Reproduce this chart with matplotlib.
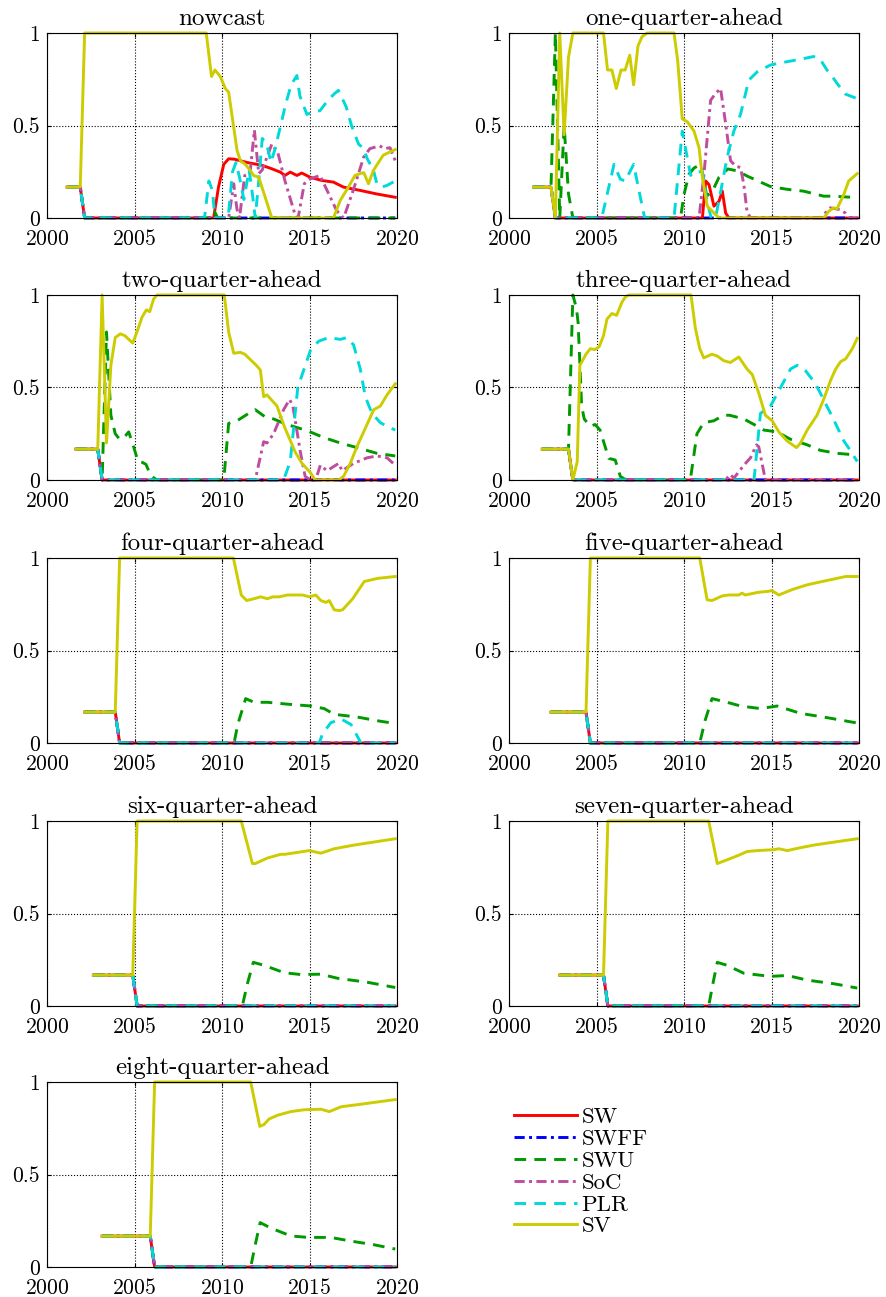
import matplotlib
matplotlib.use("Agg")
import matplotlib.pyplot as plt

plt.rcParams['font.family'] = ['cmr10', 'DejaVu Serif']
plt.rcParams['mathtext.fontset'] = 'cm'
plt.rcParams['axes.unicode_minus'] = False
plt.rcParams['axes.formatter.use_mathtext'] = True

# ---------------- data ----------------
SERIES = ['SW', 'SWFF', 'SWU', 'SoC', 'PLR', 'SV']
TITLES = ['nowcast', 'one-quarter-ahead', 'two-quarter-ahead', 'three-quarter-ahead',
          'four-quarter-ahead', 'five-quarter-ahead', 'six-quarter-ahead',
          'seven-quarter-ahead', 'eight-quarter-ahead']
XTICKS = [2000, 2005, 2010, 2015, 2020]
YTICKS = [0, 0.5, 1]
YTICK_LABELS = ['0', '0.5', '1']

nowcast = {
    'SW': [(2001.15, .167), (2001.9, .167), (2002.15, 0), (2009.52, 0), (2009.8, .167), (2010.1, .29),
           (2010.38, .32), (2010.7, .318), (2011.43, .30), (2012.28, .285), (2012.85, .266),
           (2013.33, .248), (2013.6, .23), (2013.9, .248), (2014.28, .23), (2014.56, .243),
           (2015.04, .22), (2015.7, .203), (2016.37, .194), (2016.94, .167), (2017.9, .149),
           (2018.84, .13), (2019.9, .112)],
    'SWFF': [(2001.15, .167), (2001.9, .167), (2002.15, 0), (2019.9, 0)],
    'SWU': [(2001.15, .167), (2001.9, .167), (2002.15, 0), (2009.3, 0), (2009.55, .04),
            (2009.75, 0), (2019.9, 0)],
    'SoC': [(2001.15, .167), (2001.9, .167), (2002.15, 0), (2010.38, 0), (2010.67, .185),
            (2010.85, .05), (2011.0, 0), (2011.3, .23), (2011.6, .24), (2011.85, .475),
            (2012.1, .24), (2012.3, .26), (2012.85, .40), (2013.2, .35), (2013.6, .20),
            (2014.2, .01), (2014.35, 0), (2014.7, .185), (2015.0, .21), (2015.6, .23),
            (2016.1, .13), (2016.55, .04), (2016.95, 0), (2017.5, .15), (2018.1, .33),
            (2018.45, .375), (2019.0, .39), (2019.3, .375), (2019.6, .38), (2019.9, .31)],
    'PLR': [(2001.15, .167), (2001.9, .167), (2002.15, 0), (2009.0, 0), (2009.25, .2),
            (2009.45, .15), (2009.6, 0), (2010.35, 0), (2010.6, .25), (2010.8, .30),
            (2011.0, .22), (2011.25, .1), (2011.55, .26), (2011.75, .12), (2011.9, 0),
            (2012.1, .2), (2012.3, .43), (2012.55, .40), (2012.8, .30), (2013.05, .38),
            (2013.35, .50), (2013.65, .62), (2013.95, .72), (2014.28, .77), (2014.45, .66),
            (2014.85, .56), (2015.23, .575), (2015.6, .58), (2016.0, .63), (2016.4, .67),
            (2016.65, .69), (2017.1, .60), (2017.4, .50), (2017.8, .40), (2018.1, .375),
            (2018.3, .32), (2018.65, .26), (2018.85, .185), (2019.1, .167), (2019.4, .175),
            (2019.9, .20)],
    'SV': [(2001.15, .167), (2001.9, .167), (2002.15, 1), (2009.1, 1), (2009.4, .765),
           (2009.6, .80), (2009.9, .765), (2010.19, .70), (2010.38, .68), (2010.86, .365),
           (2011.05, .31), (2011.33, .29), (2011.62, .257), (2011.8, .23), (2012.1, .22),
           (2012.85, 0), (2016.37, 0), (2016.75, .094), (2017.22, .167), (2017.6, .23),
           (2017.9, .24), (2018.1, .245), (2018.37, .185), (2018.65, .257), (2018.94, .30),
           (2019.22, .34), (2019.6, .357), (2019.9, .37)],
}

one_q = {
    'SW': [(2001.4, .167), (2002.4, .167), (2002.65, 0), (2011.05, 0), (2011.24, .2),
           (2011.43, .18), (2011.71, .064), (2012.0, .09), (2012.19, .145), (2012.38, .027),
           (2012.57, 0), (2019.9, 0)],
    'SWFF': [(2001.4, .167), (2002.4, .167), (2002.65, 0), (2019.9, 0)],
    'SWU': [(2001.4, .167), (2002.4, .167), (2002.65, 1), (2002.9, 0), (2003.15, .5),
            (2003.4, .13), (2003.65, 0), (2009.8, 0), (2010.0, .127), (2010.28, .236),
            (2010.57, .27), (2010.95, .29), (2011.1, .22), (2011.3, .12), (2011.6, .14),
            (2012.0, .22), (2012.5, .265), (2013.04, .255), (2013.6, .227), (2014.94, .17),
            (2015.9, .155), (2016.84, .145), (2017.98, .118), (2018.55, .118), (2019.9, .11)],
    'SoC': [(2001.4, .167), (2002.4, .167), (2002.65, 0), (2010.86, 0), (2011.14, .236),
            (2011.52, .636), (2011.8, .673), (2012.09, .70), (2012.38, .51), (2012.66, .31),
            (2012.95, .28), (2013.23, .273), (2013.42, .18), (2013.6, .036), (2013.8, 0),
            (2017.8, 0), (2018.36, .055), (2018.94, .045), (2019.22, .027), (2019.41, 0),
            (2019.9, 0)],
    'PLR': [(2001.4, .167), (2002.4, .167), (2002.65, 0), (2005.3, 0), (2006.0, .29),
            (2006.36, .21), (2006.64, .20), (2007.12, .29), (2007.75, 0), (2009.43, 0),
            (2009.9, .47), (2010.38, .23), (2010.57, .25), (2011.05, .25), (2011.3, .1),
            (2011.55, 0), (2011.8, 0), (2012.1, .145), (2012.47, .33), (2012.85, .47),
            (2013.23, .56), (2013.7, .745), (2014.18, .79), (2014.94, .827), (2015.89, .845),
            (2016.65, .858), (2017.41, .873), (2017.8, .855), (2018.17, .80), (2018.36, .78),
            (2018.75, .727), (2019.22, .67), (2019.9, .645)],
    'SV': [(2001.4, .167), (2002.4, .167), (2002.65, 0), (2002.9, 1), (2003.15, .45),
           (2003.4, .87), (2003.65, 1), (2005.4, 1), (2005.63, .80), (2005.88, .80),
           (2006.13, .70), (2006.4, .80), (2006.64, .80), (2006.9, .88), (2007.12, .72),
           (2007.37, .93), (2007.6, .98), (2007.9, 1), (2009.43, 1), (2009.64, .85),
           (2009.9, .536), (2010.19, .52), (2010.57, .47), (2010.86, .38), (2011.05, .22),
           (2011.33, .064), (2011.62, .036), (2012.0, 0), (2017.98, 0), (2018.27, .036),
           (2018.55, .055), (2018.75, .05), (2019.13, .127), (2019.41, .20), (2019.9, .24)],
}

two_q = {
    'SW': [(2001.65, .167), (2002.9, .167), (2003.15, 0), (2019.9, 0)],
    'SWFF': [(2001.65, .167), (2002.9, .167), (2003.15, 0), (2019.9, 0)],
    'SWU': [(2001.65, .167), (2002.9, .167), (2003.15, 0), (2003.4, .8), (2003.65, .35),
            (2003.9, .25), (2004.15, .22), (2004.4, .23), (2004.67, .26), (2004.95, .18),
            (2005.2, .10), (2005.45, .095), (2005.65, .085), (2005.95, .02), (2006.3, 0),
            (2010.1, 0), (2010.38, .306), (2010.86, .32), (2011.52, .36), (2011.9, .38),
            (2012.48, .34), (2012.95, .33), (2013.71, .30), (2014.86, .267), (2015.8, .23),
            (2016.76, .20), (2017.9, .17), (2018.86, .144), (2019.9, .13)],
    'SoC': [(2001.65, .167), (2002.9, .167), (2003.15, 0), (2011.9, 0), (2012.38, .207),
            (2012.57, .20), (2012.95, .25), (2013.52, .38), (2013.86, .435), (2014.05, .40),
            (2014.48, .15), (2014.75, .02), (2015.05, 0), (2015.35, 0), (2015.62, .08),
            (2016.0, .05), (2016.67, .09), (2016.86, .05), (2017.52, .09), (2018.29, .12),
            (2018.86, .13), (2019.43, .12), (2019.9, .08)],
    'PLR': [(2001.65, .167), (2002.9, .167), (2003.15, 0), (2013.52, 0), (2013.9, .1),
            (2014.33, .50), (2015.05, .70), (2015.52, .75), (2016.1, .77), (2016.76, .76),
            (2017.14, .77), (2017.52, .73), (2017.9, .60), (2018.19, .45), (2018.57, .36),
            (2019.05, .31), (2019.43, .29), (2019.9, .27)],
    'SV': [(2001.65, .167), (2002.9, .167), (2003.15, 1), (2003.4, .2), (2003.65, .62),
           (2003.9, .77), (2004.19, .79), (2004.45, .78), (2004.9, .74), (2005.14, .80),
           (2005.43, .88), (2005.68, .92), (2005.87, .91), (2006.1, .98), (2006.29, 1),
           (2010.13, 1), (2010.38, .80), (2010.67, .685), (2011.05, .69), (2011.3, .68),
           (2011.96, .62), (2012.19, .595), (2012.38, .45), (2012.57, .46), (2013.14, .40),
           (2013.6, .28), (2014.19, .15), (2014.57, .09), (2015.05, .04), (2015.33, 0),
           (2016.67, 0), (2016.95, .02), (2017.33, .09), (2017.71, .18), (2018.19, .28),
           (2018.67, .38), (2019.05, .40), (2019.43, .46), (2019.9, .52)],
}

three_q = {
    'SW': [(2001.9, .167), (2003.4, .167), (2003.65, 0), (2019.9, 0)],
    'SWFF': [(2001.9, .167), (2003.4, .167), (2003.65, 0), (2019.9, 0)],
    'SWU': [(2001.9, .167), (2003.4, .167), (2003.65, 1), (2003.85, .93), (2003.95, .85),
            (2004.15, .40), (2004.3, .33), (2004.64, .29), (2004.92, .30), (2005.2, .27),
            (2005.7, .117), (2006.07, .108), (2006.36, .02), (2006.6, .005), (2007.0, 0),
            (2010.36, 0), (2010.74, .25), (2011.13, .31), (2011.7, .32), (2012.27, .35),
            (2012.6, .35), (2013.42, .33), (2014.0, .30), (2014.56, .27), (2015.32, .26),
            (2016.09, .22), (2017.04, .19), (2017.8, .16), (2018.76, .144), (2019.9, .135)],
    'SoC': [(2001.9, .167), (2003.4, .167), (2003.65, 0), (2012.37, 0), (2012.65, .03),
            (2012.85, .01), (2013.42, .08), (2013.8, .12), (2014.14, .19), (2014.27, .18),
            (2014.65, 0), (2019.9, 0)],
    'PLR': [(2001.9, .167), (2003.4, .167), (2003.65, 0), (2014.0, 0), (2014.37, .36),
            (2014.94, .40), (2015.52, .50), (2016.09, .60), (2016.47, .62), (2016.95, .59),
            (2017.52, .52), (2018.0, .43), (2018.48, .34), (2019.14, .21), (2019.43, .17),
            (2019.9, .10)],
    'SV': [(2001.9, .167), (2003.4, .167), (2003.65, 0), (2003.9, .1), (2004.05, .62),
           (2004.4, .68), (2004.65, .71), (2004.9, .705), (2005.15, .72), (2005.4, .78),
           (2005.6, .87), (2005.88, .90), (2006.15, .89), (2006.45, .96), (2006.65, .99),
           (2006.85, 1), (2010.4, 1), (2010.65, .82), (2010.9, .71), (2011.13, .66),
           (2011.6, .68), (2011.9, .67), (2012.27, .645), (2012.65, .635), (2013.13, .665),
           (2013.6, .60), (2013.9, .57), (2014.27, .47), (2014.65, .35), (2015.04, .32),
           (2015.42, .26), (2015.9, .21), (2016.43, .175), (2016.66, .20), (2017.04, .27),
           (2017.6, .35), (2018.0, .44), (2018.38, .54), (2018.67, .60), (2018.95, .64),
           (2019.24, .655), (2019.62, .71), (2019.9, .766)],
}

four_q_base = [(2002.15, .167), (2003.9, .167), (2004.15, 0), (2019.9, 0)]
four_q = {
    'SW': four_q_base, 'SWFF': four_q_base, 'SoC': four_q_base,
    'SWU': [(2002.15, .167), (2003.9, .167), (2004.15, 0), (2010.69, 0), (2010.9, .1),
            (2011.35, .24), (2011.83, .22), (2012.6, .22), (2013.74, .21), (2015.08, .20),
            (2015.84, .186), (2016.41, .155), (2017.75, .14), (2018.9, .12), (2019.9, .105)],
    'PLR': [(2002.15, .167), (2003.9, .167), (2004.15, 0), (2015.55, 0), (2015.75, .05),
            (2016.22, .11), (2016.8, .13), (2017.37, .10), (2017.94, 0), (2019.9, 0)],
    'SV': [(2002.15, .167), (2003.9, .167), (2004.15, 1), (2010.65, 1), (2011.1, .80),
           (2011.41, .77), (2011.83, .78), (2012.2, .79), (2012.6, .78), (2012.9, .79),
           (2013.26, .79), (2013.74, .80), (2014.6, .80), (2015.0, .79), (2015.36, .80),
           (2015.65, .77), (2015.94, .76), (2016.13, .77), (2016.41, .72), (2016.7, .716),
           (2016.89, .72), (2017.47, .78), (2018.13, .873), (2018.9, .89), (2019.9, .90)],
}

five_q_base = [(2002.4, .167), (2004.4, .167), (2004.65, 0), (2019.9, 0)]
five_q = {
    'SW': five_q_base, 'SWFF': five_q_base, 'SoC': five_q_base, 'PLR': five_q_base,
    'SWU': [(2002.4, .167), (2004.4, .167), (2004.65, 0), (2010.9, 0), (2011.2, .12),
            (2011.6, .24), (2012.46, .22), (2013.23, .20), (2014.37, .186), (2015.32, .20),
            (2016.66, .16), (2018.0, .14), (2019.9, .108)],
    'SV': [(2002.4, .167), (2004.4, .167), (2004.65, 1), (2010.9, 1), (2011.32, .774),
           (2011.6, .77), (2012.18, .795), (2012.56, .80), (2013.13, .80), (2013.32, .81),
           (2013.5, .80), (2014.27, .815), (2014.85, .82), (2015.0, .825), (2015.42, .80),
           (2016.2, .83), (2017.04, .855), (2018.0, .875), (2019.24, .90), (2019.9, .90)],
}

six_q_base = [(2002.65, .167), (2004.9, .167), (2005.15, 0), (2019.9, 0)]
six_q = {
    'SW': six_q_base, 'SWFF': six_q_base, 'SoC': six_q_base, 'PLR': six_q_base,
    'SWU': [(2002.65, .167), (2004.9, .167), (2005.15, 0), (2011.16, 0), (2011.45, .12),
            (2011.79, .236), (2012.4, .22), (2013.55, .18), (2014.5, .17), (2015.65, .172),
            (2016.6, .15), (2018.32, .128), (2019.9, .10)],
    'SV': [(2002.65, .167), (2004.9, .167), (2005.15, 1), (2011.1, 1), (2011.74, .77),
           (2011.9, .77), (2012.6, .80), (2013.36, .82), (2013.6, .82), (2014.3, .83),
           (2014.98, .84), (2015.65, .826), (2016.41, .85), (2017.56, .87), (2019.9, .904)],
}

seven_q_base = [(2002.9, .167), (2005.4, .167), (2005.65, 0), (2019.9, 0)]
seven_q = {
    'SW': seven_q_base, 'SWFF': seven_q_base, 'SoC': seven_q_base, 'PLR': seven_q_base,
    'SWU': [(2002.9, .167), (2005.4, .167), (2005.65, 0), (2011.41, 0), (2011.65, .12),
            (2011.9, .236), (2012.46, .22), (2013.42, .177), (2014.94, .16), (2015.9, .165),
            (2017.04, .14), (2018.58, .12), (2019.9, .097)],
    'SV': [(2002.9, .167), (2005.4, .167), (2005.65, 1), (2011.41, 1), (2011.9, .77),
           (2012.46, .79), (2013.13, .815), (2013.6, .835), (2014.18, .84), (2015.14, .845),
           (2015.42, .85), (2015.9, .84), (2016.57, .854), (2017.43, .87), (2018.58, .886),
           (2019.9, .904)],
}

eight_q_base = [(2003.15, .167), (2005.9, .167), (2006.15, 0), (2019.9, 0)]
eight_q = {
    'SW': eight_q_base, 'SWFF': eight_q_base, 'SoC': eight_q_base, 'PLR': eight_q_base,
    'SWU': [(2003.15, .167), (2005.9, .167), (2006.15, 0), (2011.64, 0), (2011.9, .12),
            (2012.18, .24), (2012.8, .21), (2013.93, .168), (2014.9, .16), (2016.2, .16),
            (2017.37, .14), (2018.7, .12), (2019.9, .097)],
    'SV': [(2003.15, .167), (2005.9, .167), (2006.15, 1), (2011.64, 1), (2012.16, .76),
           (2012.4, .77), (2012.69, .80), (2013.17, .82), (2013.93, .84), (2014.7, .85),
           (2015.65, .853), (2016.13, .84), (2016.8, .866), (2017.94, .88), (2019.9, .905)],
}

PANELS = [nowcast, one_q, two_q, three_q, four_q, five_q, six_q, seven_q, eight_q]

# ---------------- styles ----------------
STYLE = {
    'SW':   dict(color=(1.0, 0.0, 0.0), linestyle='-'),
    'SWFF': dict(color=(0.0, 0.0, 1.0), linestyle=(0, (3.5, 1.5, 1.0, 1.5))),
    'SWU':  dict(color=(0.0, 0.6, 0.0), linestyle=(0, (4.0, 2.8))),
    'SoC':  dict(color=(0.75, 0.3, 0.62), linestyle=(0, (3.5, 1.5, 1.0, 1.5))),
    'PLR':  dict(color=(0.0, 0.85, 0.85), linestyle=(0, (4.0, 2.8))),
    'SV':   dict(color=(0.8, 0.8, 0.0), linestyle='-'),
}

W, H = 887, 1297
fig = plt.figure(figsize=(W / 100, H / 100), dpi=100)

col_left = [47, 509]
ax_w = 350
row_top = [33, 295, 558, 821, 1082]
ax_h = 185

handles = None
for i, (panel, title) in enumerate(zip(PANELS, TITLES)):
    r, c = divmod(i, 2)
    ax = fig.add_axes([col_left[c] / W, 1 - (row_top[r] + ax_h) / H, ax_w / W, ax_h / H])
    hs = []
    for name in SERIES:
        pts = panel[name]
        xs = [p[0] for p in pts]
        ys = [p[1] for p in pts]
        ln, = ax.plot(xs, ys, lw=2.1, label=name, clip_on=False, **STYLE[name])
        hs.append(ln)
    if handles is None:
        handles = hs
    ax.set_xlim(2000, 2020)
    ax.set_ylim(0, 1)
    ax.set_xticks(XTICKS)
    ax.set_yticks(YTICKS)
    ax.set_yticklabels(YTICK_LABELS)
    ax.grid(True, linestyle=':', color='k', linewidth=0.8)
    ax.set_axisbelow(True)
    ax.tick_params(direction='in', length=3, top=True, right=True, labelsize=15.5)
    ax.tick_params(axis='y', pad=5)
    ax.tick_params(axis='x', pad=8)
    for s in ax.spines.values():
        s.set_linewidth(0.8)
    ax.set_title(title, fontsize=18, pad=6)

fig.legend(handles=handles, labels=SERIES, loc='upper left',
           bbox_to_anchor=(514 / W, 1 - 1107 / H), frameon=False, fontsize=16.5,
           handlelength=2.75, handletextpad=0.2, labelspacing=0.08,
           borderpad=0, borderaxespad=0)

fig.savefig('out.png', dpi=100)
